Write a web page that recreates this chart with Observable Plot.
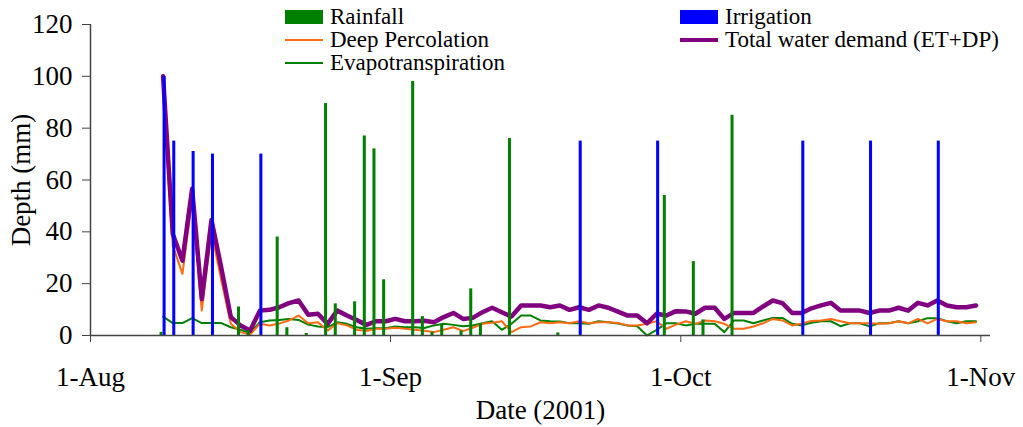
<!DOCTYPE html>
<html><head><meta charset="utf-8">
<script src="https://cdn.jsdelivr.net/npm/d3@7"></script>
<script src="https://cdn.jsdelivr.net/npm/@observablehq/plot@0.6"></script>
<style>
body{margin:0;background:#fff;}
#wrap{position:relative;width:1023px;height:427px;font-family:"Liberation Serif","Times New Roman",serif;}
#wrap svg text{font-family:"Liberation Serif","Times New Roman",serif !important;}
#legend{position:absolute;left:0;top:0;width:1023px;height:80px;pointer-events:none;}
.item{position:absolute;display:flex;align-items:center;height:23px;font-size:23px;color:#000;white-space:nowrap;font-family:"Liberation Serif","Times New Roman",serif;}
.sw{width:38px;height:23px;position:relative;margin-right:7px;}
.sw span{position:absolute;left:0;right:0;top:50%;}
</style></head><body><div id="wrap"><div id="legend"></div></div>
<script>
// ---- data ----
const rainDates = ["2001-08-08","2001-08-16","2001-08-17","2001-08-20","2001-08-21","2001-08-23","2001-08-25","2001-08-26","2001-08-28","2001-08-29","2001-08-30","2001-08-31","2001-09-03","2001-09-04","2001-09-05","2001-09-06","2001-09-08","2001-09-09","2001-09-10","2001-09-13","2001-09-18","2001-09-29","2001-10-02","2001-10-03","2001-10-06"];
const rainValues = [1.2,11,2,38,3,0.8,89.5,12.2,13,77,72,21.5,98,7.3,1.3,4,1.7,18,4.6,76,1,54,28.5,6,85];
const irrDates = ["2001-08-08","2001-08-09","2001-08-11","2001-08-13","2001-08-18","2001-09-20","2001-09-28","2001-10-13","2001-10-20","2001-10-27"];
const irrValues = [100,75,71,70,70,75,75,75,75,75];
const lineStart = "2001-08-08"; // daily series, Aug 8 – Oct 31
const et = [7.3,4.8,4.8,6.7,4.8,4.8,4.8,3.2,2.2,0.9,
5.1,5.8,6.0,6.4,6.0,4.2,3.5,3.2,5.1,4.5,
3.2,2.6,2.8,2.8,3.5,3.2,3.2,2.9,3.9,4.5,
4.1,3.6,3.9,4.7,5.5,2.2,4.5,7.7,7.7,5.8,
5.5,5.4,4.7,4.7,4.5,5.5,5.1,4.6,3.9,3.6,
0,2.2,4.7,4.7,3.9,4.5,4.5,4.5,1.3,5.8,
5.8,4.7,5.8,6.8,6.8,4.5,3.9,4.9,5.5,5.5,
3.6,4.7,4.7,3.6,4.7,4.7,5.5,4.7,5.5,6.7,
6.7,5.5,4.7,5.5,5.5];
const dp = [93,34.7,23.8,52,9.6,39.9,21.6,4.5,1.3,0.4,
4.5,3.9,4.6,5.8,7.7,4.7,5.1,1.9,4.7,3.9,
2.2,1.7,2.6,2.6,3.0,2.6,2.2,1.8,1.3,2.2,
3.2,1.7,3.0,4.5,4.9,5.5,1.3,3.2,3.5,5.1,
4.7,5.1,4.7,5.5,4.7,5.1,5.1,4.8,3.9,3.9,
4.5,5.5,2.6,4.2,5.5,4.5,5.8,5.5,4.5,2.6,
2.6,3.5,4.7,6.4,5.8,3.9,4.6,5.6,5.8,6.4,
5.5,4.7,4.7,4.7,4.5,4.7,5.5,4.7,6.4,4.7,
6.4,5.5,5.5,4.7,5.1];
const total = [100,39.2,28.9,56.6,14.1,44.6,26.4,7.1,3.9,1.9,
9.6,9.9,10.9,12.5,13.5,8.0,8.4,4.5,9.6,7.7,
6.0,4.1,5.5,5.5,6.4,5.5,5.5,5.7,5.1,7.1,
8.7,6.4,6.8,9.0,10.7,9.0,7.3,11.6,11.6,11.6,
10.9,11.6,9.9,10.9,9.9,11.6,10.7,9.2,7.7,7.7,
4.7,8.4,7.7,9.4,9.3,8.4,10.7,10.7,6.4,8.7,
8.7,8.7,11.2,13.5,12.5,8.7,8.7,10.5,11.6,12.6,
9.6,9.6,9.6,8.7,9.6,9.6,10.7,9.6,12.6,11.6,
13.5,11.6,10.9,10.9,11.6];
const xTickDates = ["2001-08-01","2001-09-01","2001-10-01","2001-11-01"];
const yTicks = [0,20,40,60,80,100,120];

// ---- build ----
const parse = d3.utcParse("%Y-%m-%d");
const start = parse(lineStart);
const lineData = et.map((v,i)=>({date:d3.utcHour.offset(d3.utcDay.offset(start,i),12), et:v, dp:dp[i], total:total[i]}));
const rain = rainDates.map((s,i)=>({date:parse(s), v:rainValues[i]}));
const irr = irrDates.map((s,i)=>({date:parse(s), v:irrValues[i]}));
const F = "'Liberation Serif','Times New Roman',serif";

const chart = Plot.plot({
  width:1023, height:427,
  marginLeft:90, marginRight:33, marginTop:24, marginBottom:92,
  style:{fontFamily:F, fontSize:"27px", color:"#000", background:"transparent"},
  x:{type:"utc", domain:[parse("2001-08-01"), parse("2001-11-02")]},
  y:{domain:[0,120]},
  marks:[
    Plot.axisY({ticks:yTicks, tickSize:8, tickPadding:10, stroke:"#444", label:"Depth (mm)", labelAnchor:"center", labelOffset:80, labelArrow:"none", fontSize:27}),
    Plot.axisX({ticks:xTickDates.map(parse), tickFormat:d3.utcFormat("%-d-%b"), tickSize:7, tickPadding:24, stroke:"#444", label:"Date (2001)", labelAnchor:"center", labelOffset:83, labelArrow:"none", fontSize:27}),
    Plot.lineY(lineData,{x:"date", y:"et", stroke:"#008000", strokeWidth:2}),
    Plot.lineY(lineData,{x:"date", y:"dp", stroke:"#FF6A13", strokeWidth:2}),
    Plot.lineY(lineData,{x:"date", y:"total", stroke:"#800080", strokeWidth:4.5}),
    Plot.rectY(rain,{x1:d=>d3.utcMinute.offset(d.date,270), x2:d=>d3.utcHour.offset(d.date,12), y:"v", fill:"#008000", insetLeft:0, insetRight:0}),
    Plot.rectY(irr,{x1:d=>d3.utcHour.offset(d.date,12), x2:d=>d3.utcMinute.offset(d.date,1170), y:"v", fill:"#0000FF", insetLeft:0, insetRight:0}),
    Plot.ruleY([0],{stroke:"#444", strokeWidth:1.5}),
    Plot.ruleX([parse("2001-08-01")],{stroke:"#444", strokeWidth:1.5})
  ]
});
const wrap = document.getElementById("wrap");
wrap.insertBefore(chart, wrap.firstChild);

// legend
const legendItems = [
  {label:"Rainfall", type:"rect", color:"#008000", left:285, top:5},
  {label:"Irrigation", type:"rect", color:"#0000FF", left:680, top:5},
  {label:"Deep Percolation", type:"line", color:"#FF6A13", w:2, left:285, top:28},
  {label:"Total water demand (ET+DP)", type:"line", color:"#800080", w:4, left:680, top:28},
  {label:"Evapotranspiration", type:"line", color:"#008000", w:2, left:285, top:51}
];
const lg = document.getElementById("legend");
for (const it of legendItems) {
  const d = document.createElement("div");
  d.className = "item";
  d.style.left = it.left+"px"; d.style.top = it.top+"px";
  const sw = document.createElement("div"); sw.className="sw";
  const s = document.createElement("span");
  if (it.type==="rect") { s.style.height="14px"; s.style.marginTop="-7px"; s.style.background=it.color; }
  else { s.style.height=it.w+"px"; s.style.marginTop=(-it.w/2)+"px"; s.style.background=it.color; }
  sw.appendChild(s); d.appendChild(sw);
  const t = document.createElement("span"); t.textContent = it.label; d.appendChild(t);
  lg.appendChild(d);
}
</script></body></html>
